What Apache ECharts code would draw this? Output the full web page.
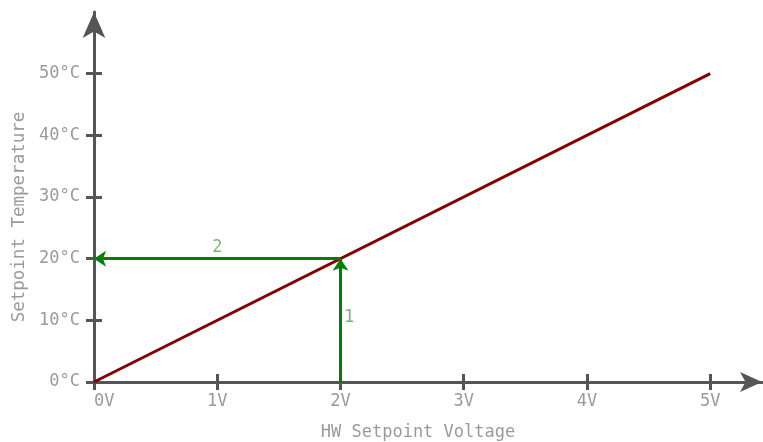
<!DOCTYPE html>
<html>
<head>
<meta charset="utf-8">
<script src="https://cdn.jsdelivr.net/npm/echarts@6/dist/echarts.min.js"></script>
<style>
  html, body { margin: 0; padding: 0; background: #fff; }
  #chart { width: 763px; height: 442px; }
</style>
</head>
<body>
<div id="chart"></div>
<script>
// chart data
const voltageTicks = [0, 1, 2, 3, 4, 5];
const tempTicks = [0, 10, 20, 30, 40, 50];
const setpointLine = [[0, 0], [5, 50]];
const stepOne = [[2, 0], [2, 20]];
const stepTwo = [[2, 20], [0, 20]];
const stepLabels = [
    { name: '1', value: [2.07, 10.5] },
    { name: '2', value: [1, 21.8] }
];

const axisGray = '#555555';
const textGray = '#9a9a9a';
const font = '"DejaVu Sans Mono", monospace';

const myChart = echarts.init(document.getElementById('chart'), null, { renderer: 'canvas' });

const gridBox = {
    left: 94,
    right: 1,
    top: 12,
    bottom: 60,
    containLabel: false,
    outerBoundsMode: 'none'
};

// grid 0 carries line, labels and outside ticks; grid 1 (same box) only adds the inside half of each tick
const baseX = (gridIndex) => {
    const main = gridIndex === 0;
    return {
        type: 'value',
        gridIndex: gridIndex,
        min: 0,
        max: 5.42,
        position: 'bottom',
        name: main ? 'HW Setpoint Voltage' : '',
        nameLocation: 'middle',
        nameGap: 42,
        nameTextStyle: { color: textGray, fontFamily: font, fontSize: 17, padding: [0, 20, 0, 0] },
        axisLine: {
            show: true,
            onZero: false,
            symbol: main ? ['none', 'arrow'] : 'none',
            symbolSize: [15, 22],
            lineStyle: { color: main ? axisGray : 'rgba(255,255,255,0)', width: 3 }
        },
        axisTick: {
            show: true,
            inside: !main,
            length: 8,
            customValues: voltageTicks,
            lineStyle: { color: axisGray, width: 3 }
        },
        axisLabel: {
            show: main,
            customValues: voltageTicks,
            margin: 11,
            alignMinLabel: 'left',
            color: textGray,
            fontFamily: font,
            fontSize: 17,
            formatter: v => v + 'V'
        },
        splitLine: { show: false }
    };
};

const baseY = (gridIndex) => {
    const main = gridIndex === 0;
    return {
        type: 'value',
        gridIndex: gridIndex,
        min: 0,
        max: 60,
        position: 'left',
        name: main ? 'Setpoint Temperature' : '',
        nameLocation: 'middle',
        nameGap: 63,
        nameTextStyle: { color: textGray, fontFamily: font, fontSize: 17.5, padding: [0, 40, 0, 0] },
        axisLine: {
            show: true,
            onZero: false,
            symbol: main ? ['none', 'arrow'] : 'none',
            symbolSize: [17, 26],
            lineStyle: { color: main ? axisGray : 'rgba(255,255,255,0)', width: 3 }
        },
        axisTick: {
            show: true,
            inside: !main,
            length: 8,
            customValues: tempTicks,
            lineStyle: { color: axisGray, width: 3 }
        },
        axisLabel: {
            show: main,
            customValues: tempTicks,
            margin: 14,
            color: textGray,
            fontFamily: font,
            fontSize: 17,
            formatter: v => v + '°C'
        },
        splitLine: { show: false }
    };
};

const option = {
    backgroundColor: '#ffffff',
    animation: false,
    grid: [gridBox, Object.assign({}, gridBox)],
    xAxis: [baseX(0), baseX(1)],
    yAxis: [baseY(0), baseY(1)],
    series: [
        {
            type: 'line',
            data: setpointLine,
            symbol: 'none',
            lineStyle: { color: '#800000', width: 3 },
            z: 3
        },
        {
            type: 'lines',
            coordinateSystem: 'cartesian2d',
            symbol: ['none', 'arrow'],
            symbolSize: [8, 12],
            lineStyle: { color: '#008000', width: 3, opacity: 1 },
            data: [{ coords: stepOne }, { coords: stepTwo }],
            z: 4
        },
        {
            type: 'scatter',
            data: stepLabels,
            symbolSize: 0,
            label: {
                show: true,
                position: 'inside',
                formatter: p => p.name,
                color: '#5aa55a',
                fontFamily: font,
                fontSize: 17
            },
            z: 5
        },
        {
            // holds the second (tick-only) axes in place
            type: 'line',
            xAxisIndex: 1,
            yAxisIndex: 1,
            data: [],
            symbol: 'none',
            silent: true
        }
    ]
};

myChart.setOption(option);
</script>
</body>
</html>
